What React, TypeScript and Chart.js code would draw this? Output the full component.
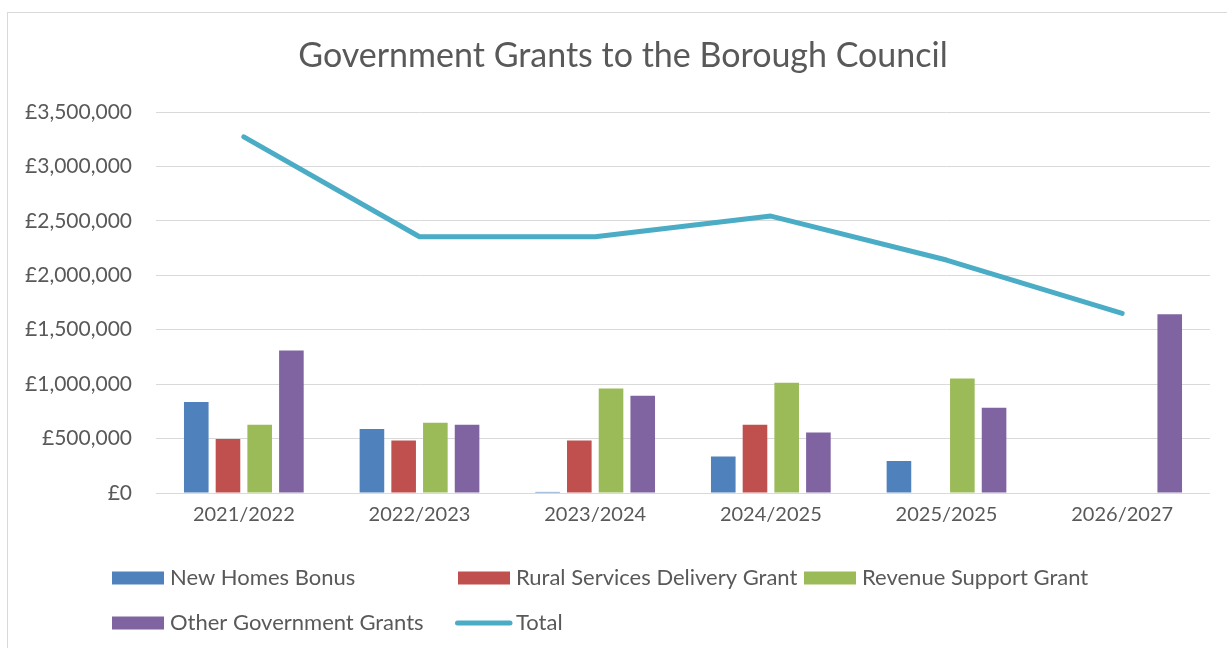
import React, { useEffect, useRef } from "react";
import { Chart, registerables } from "chart.js";

Chart.register(...registerables);

const categories = ["2021/2022", "2022/2023", "2023/2024", "2024/2025", "2025/2025", "2026/2027"];
const newHomesBonus = [835000, 587000, 10000, 336000, 294000, null];
const ruralServices = [495000, 483000, 483000, 627000, null, null];
const revenueSupport = [627000, 645000, 960000, 1012000, 1052000, null];
const otherGrants = [1308000, 627000, 893000, 556000, 783000, 1642000];
const totalGrants = [3272000, 2354000, 2354000, 2544000, 2140000, 1650000];

const TITLE = "Government Grants to the Borough Council";
const FONT = "Lato";
const TEXT = "#595959";

const legendPlugin = {
  id: "customLegendBorder",
  beforeDraw(chart: any) {
    const ctx = chart.ctx;
    ctx.save();
    ctx.fillStyle = "#ffffff";
    ctx.fillRect(0, 0, chart.width, chart.height);
    ctx.strokeStyle = "#d9d9d9";
    ctx.lineWidth = 1;
    ctx.strokeRect(7.5, 12.5, 1400, 1000);
    ctx.restore();
  },
  afterDraw(chart: any) {
    const ctx = chart.ctx;
    ctx.save();
    ctx.font = `34px ${FONT}`;
    ctx.fillStyle = TEXT;
    ctx.textAlign = "center";
    ctx.textBaseline = "middle";
    ctx.fillText(TITLE, 623, 56);
    ctx.restore();

    const cols = [112, 458, 804];
    const rows = [578, 623];
    ctx.save();
    ctx.font = `22px ${FONT}`;
    ctx.fillStyle = TEXT;
    ctx.textBaseline = "middle";
    chart.data.datasets.forEach((ds: any, i: number) => {
      const x = cols[i % 3];
      const y = rows[Math.floor(i / 3)];
      if (ds.type === "line") {
        ctx.strokeStyle = ds.borderColor;
        ctx.lineWidth = 5;
        ctx.lineCap = "round";
        ctx.beginPath();
        ctx.moveTo(x - 0.5, y);
        ctx.lineTo(x + 52, y);
        ctx.stroke();
      } else {
        ctx.fillStyle = ds.backgroundColor;
        ctx.fillRect(x, y - 6.5, 52, 13);
      }
      ctx.fillStyle = TEXT;
      ctx.fillText(ds.label, x + 58, y);
    });
    ctx.restore();
  },
};

export default function App() {
  const ref = useRef<HTMLCanvasElement | null>(null);
  useEffect(() => {
    if (!ref.current) return;
    const barCommon = {
      type: "bar" as const,
      categoryPercentage: 0.722,
      barPercentage: 0.776,
      order: 2,
    };
    const chart = new Chart(ref.current, {
      type: "bar",
      data: {
        labels: categories,
        datasets: [
          { ...barCommon, label: "New Homes Bonus", data: newHomesBonus, backgroundColor: "#4F81BD" },
          { ...barCommon, label: "Rural Services Delivery Grant", data: ruralServices, backgroundColor: "#C0504D" },
          { ...barCommon, label: "Revenue Support Grant", data: revenueSupport, backgroundColor: "#9BBB59" },
          { ...barCommon, label: "Other Government Grants", data: otherGrants, backgroundColor: "#8064A2" },
          {
            type: "line" as const,
            label: "Total",
            data: totalGrants,
            borderColor: "#4BACC6",
            backgroundColor: "#4BACC6",
            borderWidth: 5,
            borderCapStyle: "round",
            borderJoinStyle: "round",
            pointRadius: 0,
            pointHoverRadius: 0,
            tension: 0,
            order: 1,
          } as any,
        ],
      },
      options: {
        responsive: false,
        animation: false,
        layout: { padding: { left: 0, right: 17, top: 112, bottom: 0 } },
        plugins: {
          legend: { display: false },
          tooltip: { enabled: false },
          title: { display: false },
        },
        scales: {
          x: {
            grid: { display: false, drawTicks: false },
            border: { display: false },
            ticks: { color: TEXT, font: { family: FONT, size: 20 }, padding: 10 },
            afterFit(scale: any) {
              scale.height = 155;
            },
          },
          y: {
            min: 0,
            max: 3500000,
            grid: { color: "#d9d9d9", lineWidth: 1, drawTicks: false },
            border: { display: false },
            ticks: {
              stepSize: 500000,
              color: TEXT,
              padding: 24,
              font: { family: FONT, size: 21 },
              callback: (v: any) => "£" + Number(v).toLocaleString("en-GB"),
            },
            afterFit(scale: any) {
              scale.width = 156;
            },
          },
        },
      },
      plugins: [legendPlugin],
    });
    return () => chart.destroy();
  }, []);
  return (
    <div style={{ position: "absolute", left: 0, top: 0, width: 1227, height: 648 }}>
      <canvas ref={ref} width={1227} height={648} style={{ display: "block" }} />
    </div>
  );
}
